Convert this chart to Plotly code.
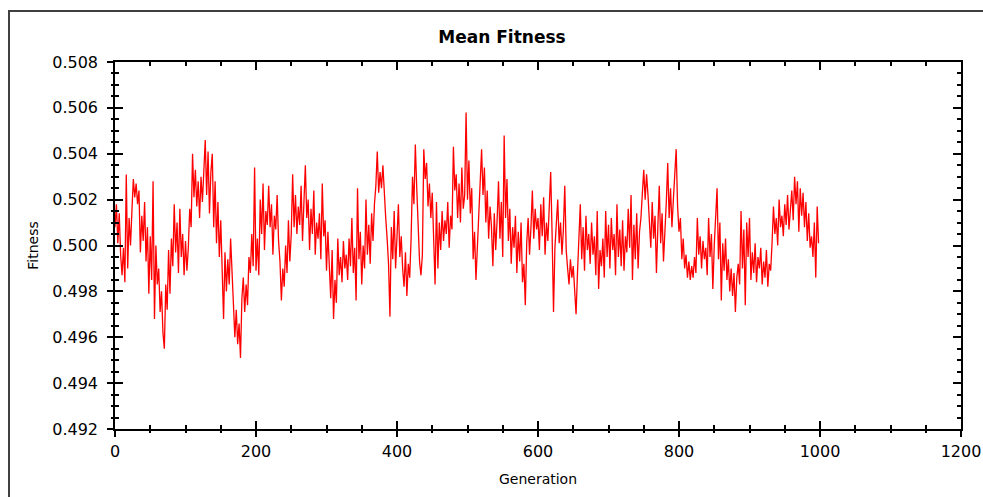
import plotly.graph_objects as go

# generations sampled every 2 steps
generations = list(range(0, 1000, 2))

mean_fitness = [
    0.5008, 0.5018, 0.5001, 0.5014, 0.4996, 0.4987, 0.4999, 0.4984, 0.5031, 0.4990,
    0.5012, 0.5000, 0.5015, 0.5029, 0.5021, 0.5027, 0.5018, 0.5024, 0.4997, 0.5013,
    0.5002, 0.5019, 0.4993, 0.5008, 0.4979, 0.5004, 0.4985, 0.5028, 0.4968, 0.5000,
    0.4983, 0.4990, 0.4971, 0.4980, 0.4962, 0.4955, 0.4983, 0.4972, 0.4998, 0.4979,
    0.5003, 0.4991, 0.5018, 0.4997, 0.5010, 0.4988, 0.5016, 0.4995, 0.5005, 0.4987,
    0.5002, 0.4989, 0.4999, 0.5016, 0.5008, 0.5040, 0.5021, 0.5033, 0.5017, 0.5028,
    0.5012, 0.5030, 0.5019, 0.5037, 0.5046, 0.5022, 0.5041, 0.5014, 0.5032, 0.5040,
    0.5008, 0.5028, 0.5001, 0.5019, 0.4995, 0.5011, 0.4984, 0.4968, 0.4997, 0.4980,
    0.4994, 0.4983, 0.5003, 0.4987, 0.4975, 0.4960, 0.4972, 0.4957, 0.4966, 0.4951,
    0.4977, 0.4986, 0.4971, 0.4983, 0.4974, 0.4995, 0.4988, 0.5005, 0.4991, 0.5034,
    0.4989, 0.5003, 0.4987, 0.5020, 0.5005, 0.5027, 0.4998, 0.5015, 0.5009, 0.5026,
    0.5008, 0.5018, 0.4996, 0.5013, 0.5007, 0.5022, 0.5002, 0.4993, 0.4976, 0.4990,
    0.4982, 0.5000, 0.4988, 0.5011, 0.4993, 0.5005, 0.5031, 0.5008, 0.5022, 0.5005,
    0.5017, 0.5009, 0.5026, 0.5002, 0.5019, 0.5035, 0.5012, 0.5020, 0.4998, 0.5016,
    0.5005, 0.5024, 0.4996, 0.5010, 0.5003, 0.5014, 0.4994, 0.5027, 0.5004, 0.5011,
    0.4989, 0.5006, 0.4991, 0.4977, 0.4998, 0.4968, 0.4985, 0.4975, 0.5003, 0.4987,
    0.4995, 0.4984, 0.5002, 0.4990, 0.4996, 0.4985, 0.5003, 0.4991, 0.5012, 0.4988,
    0.4999, 0.4976, 0.5025, 0.4994, 0.5006, 0.4983, 0.5000, 0.4990, 0.5020, 0.4996,
    0.5009, 0.4992, 0.5014, 0.5002, 0.5018, 0.5026, 0.5041, 0.5023, 0.5032, 0.5025,
    0.5035, 0.5020, 0.5012, 0.5003, 0.4992, 0.4969, 0.5008, 0.4994, 0.5015, 0.4990,
    0.5007, 0.5018, 0.4995, 0.5004, 0.4990, 0.4982, 0.4997, 0.4978, 0.4992, 0.4986,
    0.5003, 0.5030, 0.5018, 0.5044, 0.5025, 0.5011, 0.4993, 0.4987, 0.4996, 0.5042,
    0.5029, 0.5036, 0.5017, 0.5027, 0.5012, 0.5023, 0.5002, 0.4983, 0.5019, 0.4990,
    0.5010, 0.4998, 0.5015, 0.5002, 0.5011, 0.5005, 0.5019, 0.4999, 0.5013, 0.5007,
    0.5043, 0.5024, 0.5031, 0.5012, 0.5027, 0.5010, 0.5034, 0.5016, 0.5022, 0.5058,
    0.5020, 0.5037, 0.5014, 0.5025, 0.4994, 0.5006, 0.4985, 0.4999, 0.5018, 0.5031,
    0.5042, 0.5022, 0.5034, 0.5010, 0.5024, 0.5003, 0.5017, 0.5008, 0.4991, 0.5014,
    0.4998, 0.5011, 0.5028, 0.5003, 0.5019, 0.4995, 0.5048, 0.5012, 0.5029, 0.5002,
    0.5016, 0.4992, 0.5008, 0.4999, 0.5013, 0.4988, 0.5006, 0.4993, 0.5010, 0.4984,
    0.4992, 0.4974, 0.5001, 0.5012, 0.4996, 0.5008, 0.5024, 0.5003, 0.5016, 0.5007,
    0.5012, 0.4998, 0.5018, 0.5004, 0.5021, 0.4996, 0.5010, 0.5002, 0.5015, 0.5032,
    0.5005, 0.4971, 0.4999, 0.5013, 0.5020, 0.5001, 0.5010, 0.4996, 0.5007, 0.5026,
    0.4998, 0.4990, 0.4983, 0.4994, 0.4986, 0.4991, 0.4980, 0.4970, 0.4988, 0.5002,
    0.5018, 0.4994, 0.5008, 0.4989, 0.5013, 0.4998, 0.5005, 0.4992, 0.5010, 0.4996,
    0.5004, 0.4987, 0.5015, 0.4981, 0.4998, 0.4991, 0.5003, 0.4986, 0.5015, 0.4995,
    0.5009, 0.4990, 0.5012, 0.4998, 0.5005, 0.4987, 0.5018, 0.4995, 0.5007, 0.4991,
    0.5011, 0.4989, 0.5004, 0.4997, 0.5016, 0.4999, 0.5022, 0.4985, 0.5009, 0.4994,
    0.5014, 0.4990, 0.5006, 0.5012, 0.5024, 0.5033, 0.5020, 0.5031, 0.5022, 0.5012,
    0.4999, 0.5019, 0.5003, 0.5013, 0.4988, 0.5008, 0.5026, 0.5001, 0.5014, 0.4993,
    0.5005, 0.5019, 0.5036, 0.5012, 0.5025, 0.5008, 0.5020, 0.5031, 0.5042, 0.5017,
    0.5006, 0.5012, 0.4994, 0.5003, 0.4990, 0.4996, 0.4986, 0.4993, 0.4985, 0.4991,
    0.4986, 0.4995, 0.4988, 0.5012, 0.4996, 0.5004, 0.4990, 0.5002, 0.4994, 0.4999,
    0.4987, 0.5012, 0.4995, 0.5005, 0.4981, 0.5000, 0.5014, 0.5025, 0.4994, 0.5010,
    0.4976, 0.5001, 0.4989, 0.5003, 0.4985, 0.4994, 0.4980, 0.4990, 0.4978, 0.4988,
    0.4971, 0.4986, 0.4992, 0.4983, 0.5015, 0.4990, 0.5007, 0.4974, 0.5010, 0.4995,
    0.5012, 0.4985, 0.4997, 0.4988, 0.5001, 0.4984, 0.4995, 0.4990, 0.4999, 0.4983,
    0.4993, 0.4986, 0.4998, 0.4982, 0.4992, 0.4989, 0.5001, 0.5017, 0.5005, 0.5012,
    0.5000, 0.5020, 0.5008, 0.5013, 0.5004, 0.5018, 0.5009, 0.5022, 0.5007, 0.5016,
    0.5024, 0.5011, 0.5030, 0.5018, 0.5028, 0.5006, 0.5025, 0.5013, 0.5023, 0.5008,
    0.5019, 0.5002, 0.5014, 0.4999, 0.5004, 0.4995, 0.5010, 0.4986, 0.5017, 0.5001,
]

x_range = [0, 1200]
y_range = [0.492, 0.508]

FONT = "DejaVu Sans"

fig = go.Figure()

fig.add_trace(go.Scatter(
    x=generations, y=mean_fitness,
    mode="lines",
    line=dict(color="#ff0000", width=1.3),
    showlegend=False,
))

# dummy trace so the overlay axes (outer tick halves) get drawn
fig.add_trace(go.Scatter(
    x=[None], y=[None], xaxis="x2", yaxis="y2",
    showlegend=False, hoverinfo="skip",
))

fig.update_layout(
    width=983, height=497,
    autosize=False,
    margin=dict(l=115, r=22, t=62, b=68),
    paper_bgcolor="white",
    plot_bgcolor="white",
    font=dict(family=FONT, size=16, color="black"),
    title=dict(
        text="<b>Mean Fitness</b>",
        font=dict(family=FONT, size=17, color="black"),
        x=502 / 983, xanchor="center",
        y=1 - 37 / 497, yanchor="middle",
    ),
    xaxis=dict(
        range=x_range, dtick=200, tick0=0, automargin=False,
        showgrid=False, zeroline=False,
        showline=True, linecolor="black", linewidth=1.5, mirror="ticks",
        ticks="inside", ticklen=8, tickwidth=1.5, tickcolor="black",
        minor=dict(ticks="inside", ticklen=4, dtick=50, tickcolor="black", tickwidth=1.5),
        ticklabelstandoff=7,
        tickfont=dict(size=16),
        title=dict(text="Generation", font=dict(size=14), standoff=14),
    ),
    yaxis=dict(
        range=y_range, dtick=0.002, tick0=0.492, tickformat=".3f", automargin=False,
        showgrid=False, zeroline=False,
        showline=True, linecolor="black", linewidth=1.5, mirror="ticks",
        ticks="inside", ticklen=8, tickwidth=1.5, tickcolor="black",
        minor=dict(ticks="inside", ticklen=4, dtick=0.0005, tickcolor="black", tickwidth=1.5),
        ticklabelstandoff=12,
        tickfont=dict(size=16),
        title=dict(text="Fitness", font=dict(size=14), standoff=10),
    ),
    xaxis2=dict(
        range=x_range, dtick=200, tick0=0, overlaying="x", anchor="y2", side="bottom",
        automargin=False,
        showgrid=False, zeroline=False, showline=False, showticklabels=False,
        ticks="outside", ticklen=7, tickwidth=1.5, tickcolor="black",
        minor=dict(ticks="outside", ticklen=3, dtick=50, tickcolor="black", tickwidth=1.5),
    ),
    yaxis2=dict(
        range=y_range, dtick=0.002, tick0=0.492, overlaying="y", anchor="x2", side="left",
        automargin=False,
        showgrid=False, zeroline=False, showline=False, showticklabels=False,
        ticks="outside", ticklen=7, tickwidth=1.5, tickcolor="black",
        minor=dict(ticks="outside", ticklen=3, dtick=0.0005, tickcolor="black", tickwidth=1.5),
    ),
    shapes=[dict(
        type="rect", xref="paper", yref="paper",
        x0=(9 - 115) / 846, x1=(995 - 115) / 846,
        y0=(429 - 510) / 367, y1=(429 - 11) / 367,
        line=dict(color="#404040", width=2),
        fillcolor="rgba(0,0,0,0)", layer="below",
    )],
)

# drop the default page margin so the figure sits at the window origin
fig.write_html(
    "out.html",
    config={"responsive": False, "displayModeBar": False},
    post_script="document.body.style.margin='0';document.body.style.overflow='hidden';",
)
